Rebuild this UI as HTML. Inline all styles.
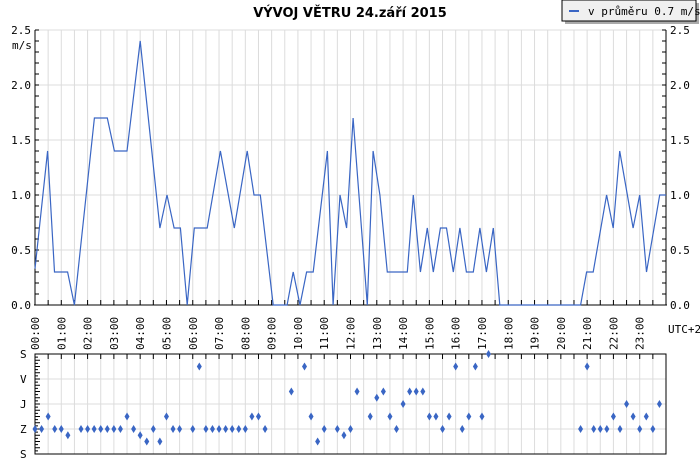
<!DOCTYPE html>
<html><head><meta charset="utf-8"><style>
body{margin:0;background:#fff}
svg{display:block;font-family:"DejaVu Sans Mono","Liberation Mono",monospace;font-size:11px}
</style></head><body>
<svg id="c" width="700" height="460" viewBox="0 0 700 460">
<text x="350" y="17" text-anchor="middle" font-family="DejaVu Sans, Liberation Sans, sans-serif" font-weight="bold" font-size="13">VÝVOJ VĚTRU  24.září 2015</text>
<g>
<rect x="565" y="3" width="134" height="21" fill="#aaa"/>
<rect x="562" y="0" width="134" height="21" fill="#f0f0f0" stroke="#000"/>
<line x1="569" y1="11" x2="579" y2="11" stroke="#3a66c4" stroke-width="2"/>
<text x="588" y="15">v průměru 0.7 m/s</text>
</g>
<text x="12" y="49">m/s</text>
<text x="668" y="333">UTC+2</text>
<g id="grid"></g>
<g id="axes"></g>
<path id="speed" fill="none" stroke="#3a66c4" stroke-width="1.2"/>
<g id="dirs"></g>
</svg>
<script>
const speedHours=[0,0.48,0.74,1.24,1.5,2.26,2.75,3.02,3.5,4,4.75,5.02,5.29,5.53,5.79,6.06,6.55,7.05,7.58,8.07,8.33,8.57,9.06,9.59,9.82,10.08,10.33,10.58,11.12,11.34,11.6,11.85,12.1,12.64,12.86,13.12,13.4,14.16,14.39,14.66,14.92,15.15,15.42,15.65,15.91,16.16,16.41,16.67,16.92,17.17,17.43,17.68,20.75,20.98,21.23,21.74,21.99,22.24,22.75,23,23.26,23.76,24];
const speedValues=[0.33,1.4,0.3,0.3,0,1.7,1.7,1.4,1.4,2.4,0.7,1.0,0.7,0.7,0,0.7,0.7,1.4,0.7,1.4,1.0,1.0,0,0,0.3,0,0.3,0.3,1.4,0,1.0,0.7,1.7,0,1.4,1.0,0.3,0.3,1.0,0.3,0.7,0.3,0.7,0.7,0.3,0.7,0.3,0.3,0.7,0.3,0.7,0,0,0.3,0.3,1.0,0.7,1.4,0.7,1.0,0.3,1.0,1.0];
const dirHours=[0,0.25,0.5,0.75,1,1.25,1.75,2,2.25,2.5,2.75,3,3.25,3.5,3.75,4,4.25,4.5,4.75,5,5.25,5.5,6,6.25,6.5,6.75,7,7.25,7.5,7.75,8,8.25,8.5,8.75,9.75,10.25,10.5,10.75,11,11.5,11.75,12,12.25,12.75,13,13.25,13.5,13.75,14,14.25,14.5,14.75,15,15.25,15.5,15.75,16,16.25,16.5,16.75,17,17.25,20.75,21,21.25,21.5,21.75,22,22.25,22.5,22.75,23,23.25,23.5,23.75,24];
const dirValues=[2,2,3,2,2,1.5,2,2,2,2,2,2,2,3,2,1.5,1,2,1,3,2,2,2,7,2,2,2,2,2,2,2,3,3,2,5,7,3,1,2,2,1.5,2,5,3,4.5,5,3,2,4,5,5,5,3,3,2,3,7,2,3,7,3,8,2,7,2,2,2,3,2,4,3,2,3,2,4];
const speedTicks=["0.0","0.5","1.0","1.5","2.0","2.5"];
const dirLabels=["S","Z","J","V","S"];
const timeLabels=["00:00","01:00","02:00","03:00","04:00","05:00","06:00","07:00","08:00","09:00","10:00","11:00","12:00","13:00","14:00","15:00","16:00","17:00","18:00","19:00","20:00","21:00","22:00","23:00"];
const NS="http://www.w3.org/2000/svg";
const X0=35,X1=666,TY0=305,TY1=30,BY0=454,BY1=354;
const xs=h=>X0+h*(X1-X0)/24;
const ys=v=>TY0-v*(TY0-TY1)/2.5;
const yd=v=>BY0-v*(BY0-BY1)/8;
function mk(p,tag,a){const e=document.createElementNS(NS,tag);for(const k in a)e.setAttribute(k,a[k]);p.appendChild(e);return e;}
const grid=document.getElementById('grid'),axes=document.getElementById('axes'),dirs=document.getElementById('dirs');
for(let i=0;i<=48;i++){const x=xs(i/2);
 const g1=mk(grid,'line',{x1:x,y1:TY1,x2:x,y2:TY0,stroke:'#dcdcdc'});
 
 
 mk(grid,'line',{x1:x,y1:BY1,x2:x,y2:BY0,stroke:'#dcdcdc'});
 mk(axes,'line',{x1:x,y1:TY0,x2:x,y2:TY0-5,stroke:'#000'});
 mk(axes,'line',{x1:x,y1:BY1,x2:x,y2:BY1+5,stroke:'#000'});}
speedTicks.forEach((t,i)=>{const v=parseFloat(t),y=ys(v);
 mk(grid,'line',{x1:X0,y1:y,x2:X1,y2:y,stroke:'#dcdcdc'});
 const l=mk(axes,'text',{x:31,y:y+4,'text-anchor':'end'});l.textContent=t;
 
 
 const r=mk(axes,'text',{x:670,y:y+4});r.textContent=t;
 
 });
for(let i=0;i<=25;i++){const y=ys(i/10);
 mk(axes,'line',{x1:X0,y1:y,x2:X0+4,y2:y,stroke:'#000'});
 mk(axes,'line',{x1:X1,y1:y,x2:X1-4,y2:y,stroke:'#000'});}
dirLabels.forEach((t,i)=>{const y=yd(i*2);
 mk(grid,'line',{x1:X0,y1:y,x2:X1,y2:y,stroke:'#dcdcdc'});
 const l=mk(axes,'text',{x:20,y:y+4});l.textContent=t;
 
 });
for(let i=0;i<=32;i++){const y=yd(i/4);mk(axes,'line',{x1:X0,y1:y,x2:X0+(i%2?3:5),y2:y,stroke:'#000'});}
timeLabels.forEach((t,i)=>{const x=xs(i);
 const l=mk(axes,'text',{x:0,y:0,transform:`translate(${x+4},350) rotate(-90)`});l.textContent=t;
 
 });
mk(axes,'line',{x1:X0,y1:TY1,x2:X0,y2:TY0,stroke:'#000'});
mk(axes,'line',{x1:X1,y1:TY1,x2:X1,y2:TY0,stroke:'#000'});
mk(axes,'line',{x1:X0-1,y1:TY0,x2:X1+1,y2:TY0,stroke:'#000'});
mk(axes,'rect',{x:X0,y:BY1,width:X1-X0,height:BY0-BY1,fill:'none',stroke:'#000'});
document.getElementById('speed').setAttribute('d',speedHours.map((h,i)=>(i?'L':'M')+xs(h).toFixed(1)+','+ys(speedValues[i]).toFixed(1)).join(''));
dirHours.forEach((h,i)=>{const x=xs(h),y=yd(dirValues[i]);
 const p=mk(dirs,'path',{d:`M${x},${y-4}L${x+2.5},${y}L${x},${y+4}L${x-2.5},${y}Z`,fill:'#3a66c4'});
 
 });
</script>
</body></html>
